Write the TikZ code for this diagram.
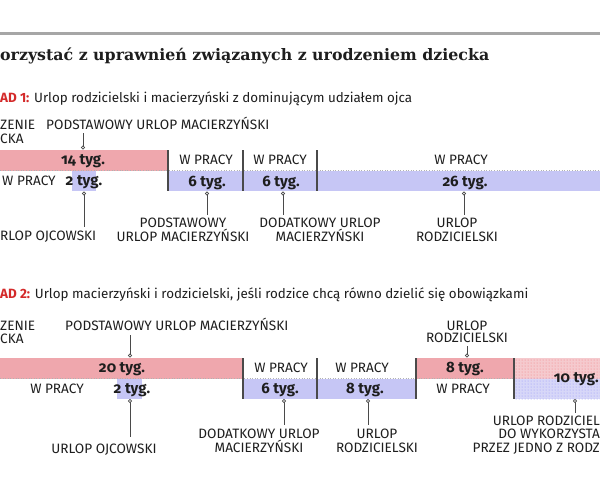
\documentclass[tikz,border=0pt]{standalone}
\usepackage{fontspec}
\setmainfont{Fira Sans}
\newfontfamily\numfont{Fira Sans}[Numbers=OldStyle]
\newfontfamily\titlefont{DejaVu Serif}
\usetikzlibrary{patterns}
\definecolor{pinkc}{HTML}{EFA7AD}
\definecolor{bluec}{HTML}{C6C6F5}
\definecolor{sepc}{HTML}{4A4A4A}
\definecolor{txt}{HTML}{1E1E1E}
\definecolor{redc}{HTML}{D42A2A}
\begin{document}
\begin{tikzpicture}[x=1pt,y=-1pt,
  lbl/.style={font=\fontsize{13.6}{15}\selectfont, text=txt, inner sep=0pt},
  num/.style={font=\numfont\bfseries\fontsize{15}{16}\selectfont, text=txt, inner sep=0pt},
  sub/.style={font=\fontsize{13.4}{15}\selectfont, text=txt, inner sep=0pt},
  sepline/.style={draw=sepc, line width=1.1pt},
  midline/.style={draw=gray!60, dotted, line width=0.6pt},
  tick/.style={draw=sepc, line width=0.8pt},
  dot/.style={draw=sepc, fill=white, line width=0.6pt}]
\useasboundingbox (0,0) rectangle (600,480);
\fill[white] (0,0) rectangle (600,480);
\draw[gray!70, line width=2.2pt] (0,33.5) -- (600,33.5);

% title
\node[anchor=base west, inner sep=0pt, text=txt, font=\titlefont\bfseries\fontsize{15.8}{18}\selectfont] (title) at (0,60) {orzystać z uprawnień związanych z urodzeniem dziecka};

% ---------- example 1 ----------
\node[sub, anchor=base west] (sub1) at (0,102) {\textcolor{redc}{\bfseries AD 1:} Urlop rodzicielski i macierzyński z dominującym udziałem ojca};
\node[lbl, anchor=base west] (b1a) at (0,129.5) {ZENIE};
\node[lbl, anchor=base west] (b1b) at (0,143) {CKA};
\node[lbl, anchor=base west] (p1) at (46,129.5) {PODSTAWOWY URLOP MACIERZYŃSKI};

\fill[pinkc] (0,150) rectangle (168,170.5);
\fill[bluec] (72,170.5) rectangle (96,191);
\fill[bluec] (168,170.5) rectangle (600,191);
\draw[midline] (0,170.5) -- (600,170.5);
\foreach \x in {168,243,317} \draw[sepline] (\x,150) -- (\x,191);

\node[num, anchor=base] (n14) at (83,164.5) {14 tyg.};
\node[lbl, anchor=base west] (w1) at (2,185.5) {W PRACY};
\node[num, anchor=base] (n2a) at (84,185.5) {2 tyg.};
\node[lbl, anchor=base] (w2) at (206,164) {W PRACY};
\node[lbl, anchor=base] (w3) at (280,164) {W PRACY};
\node[lbl, anchor=base] (w4) at (461,164) {W PRACY};
\node[num, anchor=base] (n6a) at (207,186) {6 tyg.};
\node[num, anchor=base] (n6b) at (281,186) {6 tyg.};
\node[num, anchor=base] (n26) at (465,186) {26 tyg.};

% ticks example 1
\draw[tick] (83,133) -- (83,147.5); \draw[dot] (83,147.5) circle (1.6);
\draw[tick] (84,193.5) -- (84,227); \draw[dot] (84,193.5) circle (1.6);
\draw[tick] (207,193.5) -- (207,215); \draw[dot] (207,193.5) circle (1.6);
\draw[tick] (283,193.5) -- (283,215); \draw[dot] (283,193.5) circle (1.6);
\draw[tick] (464,193.5) -- (464,215); \draw[dot] (464,193.5) circle (1.6);

\node[lbl, anchor=base west] (o1) at (0,240) {RLOP OJCOWSKI};
\node[lbl, anchor=base] (pm1) at (183,227) {PODSTAWOWY};
\node[lbl, anchor=base] (pm2) at (183,241) {URLOP MACIERZYŃSKI};
\node[lbl, anchor=base] (dm1) at (320,227) {DODATKOWY URLOP};
\node[lbl, anchor=base] (dm2) at (320,241) {MACIERZYŃSKI};
\node[lbl, anchor=base] (ur1) at (457,227) {URLOP};
\node[lbl, anchor=base] (ur2) at (457,241) {RODZICIELSKI};

% ---------- example 2 ----------
\node[sub, anchor=base west] (sub2) at (0,298) {\textcolor{redc}{\bfseries AD 2:} Urlop macierzyński i rodzicielski, jeśli rodzice chcą równo dzielić się obowiązkami};
\node[lbl, anchor=base west] (c1a) at (0,330) {ZENIE};
\node[lbl, anchor=base west] (c1b) at (0,343) {CKA};
\node[lbl, anchor=base west] (p2) at (65,330) {PODSTAWOWY URLOP MACIERZYŃSKI};
\node[lbl, anchor=base] (r2a) at (467,330) {URLOP};
\node[lbl, anchor=base] (r2b) at (467,342.5) {RODZICIELSKI};
\draw[tick] (130,335) -- (130,355.5); \draw[dot] (130,355.5) circle (1.6);
\draw[tick] (467,346) -- (467,355.5); \draw[dot] (467,355.5) circle (1.6);

\fill[pinkc] (0,358) rectangle (243,378.5);
\fill[bluec] (117,378.5) rectangle (142,399);
\fill[bluec] (243,378.5) rectangle (416,399);
\fill[pinkc] (416,358) rectangle (514,378.5);
\fill[pinkc!60] (514,358) rectangle (600,378.5);
\fill[bluec!70] (514,378.5) rectangle (600,399);
\fill[pattern=dots, pattern color=pinkc!75!red] (514,358) rectangle (600,378.5);
\fill[pattern=dots, pattern color=bluec!75!blue] (514,378.5) rectangle (600,399);
\draw[midline] (0,378.5) -- (514,378.5);
\foreach \x in {243,317,416,514} \draw[sepline] (\x,358) -- (\x,399);

\node[num, anchor=base] (n20) at (122,372.5) {20 tyg.};
\node[lbl, anchor=base] (v1) at (57,393.5) {W PRACY};
\node[num, anchor=base] (n2b) at (132,393.5) {2 tyg.};
\node[lbl, anchor=base] (v2) at (281,372) {W PRACY};
\node[lbl, anchor=base] (v3) at (362,372) {W PRACY};
\node[num, anchor=base] (n6c) at (280,393.5) {6 tyg.};
\node[num, anchor=base] (n8a) at (365,393.5) {8 tyg.};
\node[num, anchor=base] (n8b) at (465,372.5) {8 tyg.};
\node[lbl, anchor=base] (v4) at (463,393.5) {W PRACY};
\node[num, anchor=base east] (n10) at (599,382.5) {10 tyg.};

\draw[tick] (130,401) -- (130,437); \draw[dot] (130,401) circle (1.6);
\draw[tick] (284,401) -- (284,425); \draw[dot] (284,401) circle (1.6);
\draw[tick] (368,401) -- (368,425); \draw[dot] (368,401) circle (1.6);
\draw[tick] (575,401) -- (575,413); \draw[dot] (575,401) circle (1.6);

\node[lbl, anchor=base] (o2) at (104,453) {URLOP OJCOWSKI};
\node[lbl, anchor=base] (d2a) at (259,438) {DODATKOWY URLOP};
\node[lbl, anchor=base] (d2b) at (259,452) {MACIERZYŃSKI};
\node[lbl, anchor=base] (u2a) at (377,438) {URLOP};
\node[lbl, anchor=base] (u2b) at (377,452) {RODZICIELSKI};
\node[lbl, anchor=base east] (x1) at (600,425) {URLOP RODZICIEL};
\node[lbl, anchor=base east] (x2) at (600,438) {DO WYKORZYSTA};
\node[lbl, anchor=base east] (x3) at (600,452) {PRZEZ JEDNO Z RODZ};
\end{tikzpicture}
\end{document}
